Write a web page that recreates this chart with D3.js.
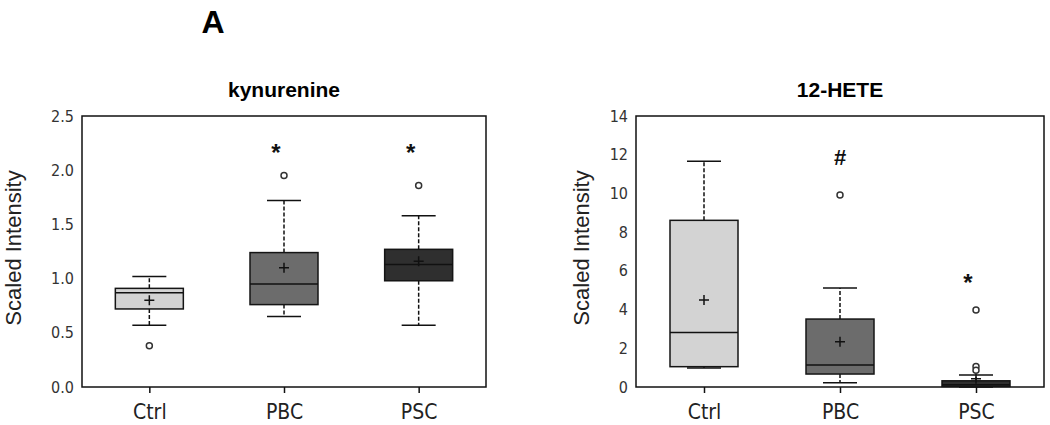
<!DOCTYPE html>
<html>
<head>
<meta charset="utf-8">
<script src="https://cdn.jsdelivr.net/npm/d3@7"></script>
<style>
  body { margin: 0; background: #fff; }
  svg { display: block; }
</style>
</head>
<body>
<svg id="chart" width="1050" height="425"></svg>
<script>
// groups
const categories = ['Ctrl', 'PBC', 'PSC'];
const boxColors = ['#d3d3d3', '#6c6c6c', '#2f2f2f'];

// kynurenine (box stats)
const kynQ1 = [0.72, 0.76, 0.98];
const kynMedian = [0.87, 0.95, 1.13];
const kynQ3 = [0.91, 1.24, 1.27];
const kynWhiskerLo = [0.57, 0.65, 0.57];
const kynWhiskerHi = [1.02, 1.72, 1.58];
const kynMean = [0.80, 1.10, 1.16];
const kynOutliers = [[0.38], [1.95], [1.86]];
const kynMarks = [null, '*', '*'];
const kynMarkY = [null, 2.21, 2.21];
const kynTicks = [0, 0.5, 1.0, 1.5, 2.0, 2.5];

// 12-HETE
const heteQ1 = [1.05, 0.67, 0.03];
const heteMedian = [2.82, 1.14, 0.12];
const heteQ3 = [8.61, 3.51, 0.32];
const heteWhiskerLo = [0.98, 0.22, 0.0];
const heteWhiskerHi = [11.66, 5.11, 0.62];
const heteMean = [4.49, 2.34, 0.42];
const heteOutliers = [[], [9.92], [3.98, 1.06, 0.86]];
const heteMarks = [null, '#', '*'];
const heteMarkY = [null, 11.9, 5.68];
const heteTicks = [0, 2, 4, 6, 8, 10, 12, 14];

const svg = d3.select('#chart');

svg.append('text')
    .attr('x', 213).attr('y', 33)
    .attr('text-anchor', 'middle')
    .attr('font-family', 'Liberation Sans, Arial, sans-serif')
    .attr('font-weight', 'bold')
    .attr('font-size', 32)
    .text('A');

const plotTop = 116, plotBottom = 387;

function drawPanel(p) {
    const x = d3.scalePoint().domain(categories).range([p.x0, p.x1]).padding(0.5);
    const y = d3.scaleLinear().domain([0, p.ticks[p.ticks.length - 1]]).range([plotBottom, plotTop]);
    const g = svg.append('g');
    const boxW = 68, capW = 34;

    // title
    g.append('text')
        .attr('x', (p.x0 + p.x1) / 2).attr('y', 97)
        .attr('text-anchor', 'middle')
        .attr('font-family', 'Liberation Sans, Arial, sans-serif')
        .attr('font-weight', 'bold')
        .attr('font-size', 21)
        .text(p.title);

    // y axis labels only
    const yAxis = g.append('g')
        .attr('transform', `translate(${p.x0},0)`)
        .call(d3.axisLeft(y).tickValues(p.ticks).tickSize(0).tickPadding(8).tickFormat(p.fmt));
    yAxis.select('.domain').remove();
    yAxis.selectAll('text')
        .attr('font-family', 'DejaVu Sans Condensed, DejaVu Sans, sans-serif')
        .attr('font-size', 16)
        .attr('fill', '#333');

    // x axis
    const xAxis = g.append('g')
        .attr('transform', `translate(0,${plotBottom})`)
        .call(d3.axisBottom(x).tickSize(6).tickPadding(11));
    xAxis.select('.domain').remove();
    xAxis.selectAll('line').attr('stroke', '#111').attr('stroke-width', 1.5);
    xAxis.selectAll('text')
        .attr('font-family', 'DejaVu Sans Condensed, DejaVu Sans, sans-serif')
        .attr('font-size', 21)
        .attr('fill', '#222');

    // y title
    g.append('text')
        .attr('transform', `translate(${p.labelX},248) rotate(-90)`)
        .attr('text-anchor', 'middle')
        .attr('font-family', 'Liberation Sans, Arial, sans-serif')
        .attr('font-size', 22)
        .attr('fill', '#222')
        .text('Scaled Intensity');

    // frame
    g.append('rect')
        .attr('x', p.x0).attr('y', plotTop)
        .attr('width', p.x1 - p.x0).attr('height', plotBottom - plotTop)
        .attr('fill', 'none').attr('stroke', '#111').attr('stroke-width', 1.5);

    categories.forEach((c, i) => {
        const cx = x(c);
        const bg = g.append('g');
        // whiskers (dashed)
        bg.append('line')
            .attr('x1', cx).attr('x2', cx)
            .attr('y1', y(p.q3[i])).attr('y2', y(p.wHi[i]))
            .attr('stroke', '#111').attr('stroke-width', 1.5).attr('stroke-dasharray', '4,2');
        bg.append('line')
            .attr('x1', cx).attr('x2', cx)
            .attr('y1', y(p.q1[i])).attr('y2', y(p.wLo[i]))
            .attr('stroke', '#111').attr('stroke-width', 1.5).attr('stroke-dasharray', '4,2');
        // caps
        [p.wHi[i], p.wLo[i]].forEach(v => {
            bg.append('line')
                .attr('x1', cx - capW / 2).attr('x2', cx + capW / 2)
                .attr('y1', y(v)).attr('y2', y(v))
                .attr('stroke', '#111').attr('stroke-width', 1.5);
        });
        // box
        bg.append('rect')
            .attr('x', cx - boxW / 2).attr('y', y(p.q3[i]))
            .attr('width', boxW).attr('height', y(p.q1[i]) - y(p.q3[i]))
            .attr('fill', boxColors[i]).attr('stroke', '#151515').attr('stroke-width', 1.5);
        // median
        bg.append('line')
            .attr('x1', cx - boxW / 2).attr('x2', cx + boxW / 2)
            .attr('y1', y(p.median[i])).attr('y2', y(p.median[i]))
            .attr('stroke', '#111').attr('stroke-width', 1.5);
        // mean
        const my = y(p.mean[i]);
        bg.append('path')
            .attr('d', `M${cx - 5},${my}H${cx + 5}M${cx},${my - 5}V${my + 5}`)
            .attr('stroke', '#111').attr('stroke-width', 1.5);
        // outliers
        bg.selectAll('circle.out')
            .data(p.outliers[i])
            .enter().append('circle')
            .attr('class', 'out')
            .attr('cx', cx).attr('cy', d => y(d)).attr('r', 3)
            .attr('fill', '#fff').attr('stroke', '#333').attr('stroke-width', 1.5);
        // significance marks
        if (p.marks[i]) {
            const isStar = p.marks[i] === '*';
            bg.append('text')
                .attr('x', cx + (isStar ? -8 : 0))
                .attr('y', y(p.markY[i]) + (isStar ? 14 : 8))
                .attr('text-anchor', 'middle')
                .attr('font-family', 'Liberation Sans, Arial, sans-serif')
                .attr('font-weight', 'bold')
                .attr('font-size', isStar ? 24 : 22)
                .attr('fill', '#111')
                .text(p.marks[i]);
        }
    });
}

drawPanel({
    title: 'kynurenine', x0: 82, x1: 486, labelX: 21, ticks: kynTicks, fmt: d3.format('.1f'),
    q1: kynQ1, median: kynMedian, q3: kynQ3, wLo: kynWhiskerLo, wHi: kynWhiskerHi,
    mean: kynMean, outliers: kynOutliers, marks: kynMarks, markY: kynMarkY
});
drawPanel({
    title: '12-HETE', x0: 636, x1: 1044, labelX: 589, ticks: heteTicks, fmt: d3.format('d'),
    q1: heteQ1, median: heteMedian, q3: heteQ3, wLo: heteWhiskerLo, wHi: heteWhiskerHi,
    mean: heteMean, outliers: heteOutliers, marks: heteMarks, markY: heteMarkY
});
</script>
</body>
</html>
